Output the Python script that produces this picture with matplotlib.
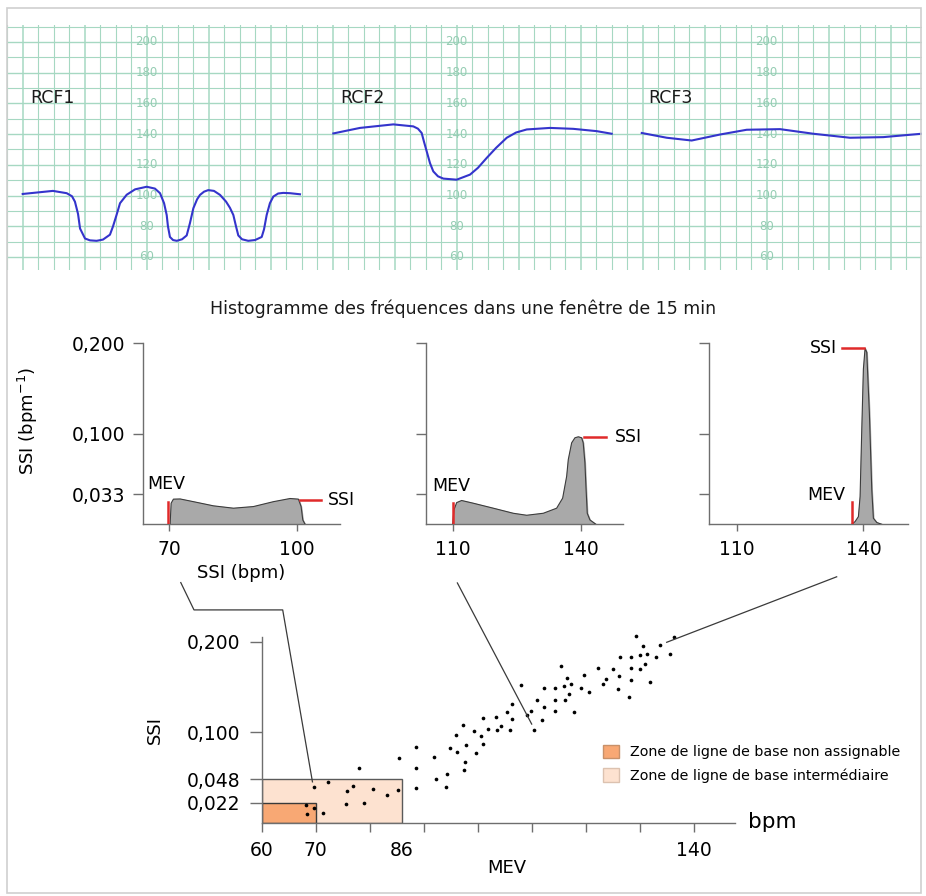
import matplotlib
matplotlib.use('Agg')
import matplotlib.pyplot as plt
from matplotlib.patches import Rectangle, Patch
from matplotlib.lines import Line2D

# ---- top strip: three CTG traces (t in grid squares, bpm) ----
rcf1_t = [1.00, 2.95, 3.84, 4.18, 4.37, 4.57, 4.70, 5.02, 5.34, 5.77, 6.18, 6.63, 6.83, 7.06,
          7.28, 7.71, 8.25, 9.00, 9.53, 9.86, 10.12, 10.29, 10.37, 10.50, 10.70, 10.94, 11.28,
          11.58, 11.79, 12.01, 12.25, 12.44, 12.70, 12.97, 13.34, 13.73, 14.12, 14.37, 14.59,
          14.76, 14.91, 15.15, 15.55, 15.99, 16.42, 16.57, 16.74, 16.95, 17.17, 17.48, 17.81,
          18.25, 18.89]
rcf1_v = [101, 103, 101.5, 99.5, 96, 88, 78.5, 72, 70.8, 70.5, 71.3, 74.5, 80, 87.5,
          95, 100.5, 104, 105.7, 104.5, 101.5, 95, 87.3, 80, 73, 71, 70.5, 71.5,
          74, 82, 91.7, 97.5, 100.4, 102.5, 103.5, 103, 100.4, 96, 92, 87.3,
          80, 74, 71.5, 70.5, 71, 73, 78, 87.3, 95, 99.3, 101.3, 101.7,
          101.5, 100.8]
rcf2_t = [21.04, 22.76, 24.91, 26.20, 26.50, 26.74, 26.89, 27.06, 27.28, 27.49, 27.79, 28.14,
          29.00, 29.86, 30.37, 30.94, 31.54, 32.23, 32.83, 33.52, 35.02, 36.52, 38.03, 39.00]
rcf2_v = [140.4, 144, 146.3, 145, 143.5, 140.7, 135, 128.9, 121, 115.7, 112.5, 111,
          110.3, 113.6, 118, 124.5, 131, 137.6, 141, 143, 144, 143.4, 141.9, 140.2]
rcf3_t = [40.94, 42.55, 44.16, 45.99, 47.71, 49.86, 52.01, 54.37, 56.52, 58.99]
rcf3_v = [140.7, 137.6, 135.8, 139.7, 142.8, 143.2, 140.2, 137.6, 138, 140.2]
ctg_labels = ['RCF1', 'RCF2', 'RCF3']
ctg_ticks = [60, 80, 100, 120, 140, 160, 180, 200]

# ---- histograms (bpm, density) ----
h1_x = [70.16, 70.40, 70.94, 72.52, 75.66, 80.37, 85.08, 89.79, 94.5, 98.44, 100.4, 101.03, 101.43, 101.97]
h1_y = [0, 0.0233, 0.0278, 0.028, 0.025, 0.0204, 0.0178, 0.0196, 0.025, 0.0285, 0.0278, 0.0196, 0.0048, 0]
h2_x = [110.0, 110.3, 110.94, 112.1, 114.83, 119.52, 124.2, 127.34, 131.24, 134.37, 135.78, 136.72,
        137.1, 137.89, 138.66, 139.45, 140.23, 140.6, 141.0, 141.24, 141.55, 142.18, 143.58]
h2_y = [0, 0.0159, 0.024, 0.0263, 0.0233, 0.0178, 0.0122, 0.010, 0.0122, 0.0178, 0.0289, 0.053,
        0.0715, 0.090, 0.0956, 0.0967, 0.0956, 0.090, 0.068, 0.042, 0.0122, 0.0048, 0]
h3_x = [137.25, 138.03, 138.82, 139.22, 139.62, 140.0, 140.4, 140.8, 141.42, 141.99, 142.37, 143.17, 144.36]
h3_y = [0, 0.003, 0.0085, 0.0307, 0.105, 0.1715, 0.1944, 0.19, 0.123, 0.038, 0.0067, 0.002, 0]
mev_marks = [69.6, 110.0, 137.3]
ssi_marks = [0.027, 0.0967, 0.195]
hist_xticks = [[70, 100], [110, 140], [110, 140]]

# ---- scatter MEV vs SSI ----
mev = [68.2, 69.7, 68.4, 71.3, 69.6, 72.3, 75.7, 75.8, 77.0, 78.0, 79.0, 80.6, 83.2, 85.3, 85.4,
       88.6, 88.5, 88.5, 91.9, 92.2, 94.2, 94.4, 94.9, 96.1, 95.9, 97.5, 97.7, 97.8, 97.2, 99.3,
       99.6, 100.6, 101.0, 100.9, 101.9, 103.3, 103.5, 104.3, 105.4, 105.9, 106.4, 106.3, 108.0,
       109.2, 109.8, 110.5, 111.0, 112.0, 112.2, 112.3, 114.3, 114.3, 114.3, 115.4, 116.0, 116.1,
       116.5, 117.0, 117.3, 117.9, 119.1, 119.7, 120.6, 122.3, 123.2, 123.8, 125.1, 126.0, 126.2,
       126.4, 128.1, 128.3, 128.3, 128.3, 129.4, 130.1, 130.1, 130.6, 131.0, 131.4, 132.0, 133.1,
       133.8, 135.6, 136.4]
ssi = [0.019, 0.016, 0.009, 0.011, 0.039, 0.045, 0.020, 0.035, 0.040, 0.060, 0.022, 0.037, 0.030,
       0.036, 0.071, 0.084, 0.060, 0.038, 0.073, 0.048, 0.039, 0.054, 0.083, 0.078, 0.097, 0.058,
       0.067, 0.086, 0.108, 0.101, 0.077, 0.096, 0.087, 0.116, 0.104, 0.117, 0.102, 0.107, 0.122,
       0.103, 0.115, 0.131, 0.152, 0.119, 0.124, 0.103, 0.136, 0.114, 0.128, 0.149, 0.149, 0.136,
       0.124, 0.173, 0.151, 0.136, 0.160, 0.142, 0.153, 0.122, 0.149, 0.163, 0.145, 0.171, 0.153,
       0.159, 0.170, 0.148, 0.162, 0.183, 0.139, 0.158, 0.171, 0.183, 0.207, 0.186, 0.170, 0.195,
       0.176, 0.187, 0.156, 0.183, 0.197, 0.187, 0.205]
sc_yticks = [0.022, 0.048, 0.100, 0.200]
sc_xticks = [60, 70, 80, 86, 90, 100, 110, 120, 130, 140]
sc_xlabels = ['60', '70', '', '86', '', '', '', '', '', '140']

W, H = 926, 896
fig = plt.figure(figsize=(W / 100, H / 100), dpi=100)
plt.rcParams['font.family'] = 'DejaVu Sans'


def box(x0, y0, x1, y1):
    return [x0 / W, 1 - y1 / H, (x1 - x0) / W, (y1 - y0) / H]


grid_c = '#a6d8c2'
green_txt = '#95cdb3'
spine_c = '#6e6e6e'

# outer frame
fig.patches.append(Rectangle((7 / W, 1 - 893 / H), 914 / W, 885 / H, transform=fig.transFigure,
                             fill=False, ec='#cfcfcf', lw=1.2))

# top CTG strip
ax0 = fig.add_axes(box(7.2, 25, 922, 270))
ax0.set_xlim(0, 59.02)
ax0.set_ylim(51.5, 211)
ax0.axis('off')
for k in range(60):
    ax0.axvline(k, color=grid_c, lw=1.1 if k % 4 == 1 else 0.8, zorder=1)
for v in range(60, 211, 10):
    ax0.axhline(v, color=grid_c, lw=1.0 if v % 20 == 0 else 0.8, zorder=1)
for tx in [9, 29, 49]:
    for v in ctg_ticks:
        ax0.text(tx, v, str(v), color=green_txt, fontsize=8.5, ha='center', va='center', zorder=2)
for tt, vv in [(rcf1_t, rcf1_v), (rcf2_t, rcf2_v), (rcf3_t, rcf3_v)]:
    ax0.plot(tt, vv, color='#3434cc', lw=1.5, zorder=3, solid_joinstyle='round')
for tx, lab in zip([1.47, 21.47, 41.34], ctg_labels):
    ax0.text(tx, 163.8, lab, fontsize=12.5, ha='left', va='center', color='#1a1a1a', zorder=4)

fig.text(463 / W, 1 - 309 / H, 'Histogramme des fréquences dans une fenêtre de 15 min',
         ha='center', va='center', fontsize=12.5, color='#1a1a1a')

# histograms
hist_boxes = [(142.7, 340.0), (426.0, 623.3), (709.3, 907.7)]
hist_xlims = [(63.7, 110.2), (103.75, 150.0), (103.5, 150.5)]
hist_data = [(h1_x, h1_y), (h2_x, h2_y), (h3_x, h3_y)]
haxes = []
for i in range(3):
    ax = fig.add_axes(box(hist_boxes[i][0], 343.3, hist_boxes[i][1], 524.3))
    ax.set_xlim(*hist_xlims[i])
    ax.set_ylim(0, 0.2)
    for s in ['top', 'right']:
        ax.spines[s].set_visible(False)
    for s in ['left', 'bottom']:
        ax.spines[s].set_color(spine_c)
        ax.spines[s].set_linewidth(1)
    ax.set_xticks(hist_xticks[i])
    ax.set_yticks([0.033, 0.1, 0.2])
    ax.tick_params(axis='x', length=5, width=1, color=spine_c, labelsize=13.5, pad=6)
    ax.tick_params(axis='y', length=7.5, width=1, color=spine_c, labelsize=13.5, pad=5)
    if i == 0:
        ax.set_yticklabels(['0,033', '0,100', '0,200'])
    else:
        ax.set_yticklabels([])
    hx, hy = hist_data[i]
    ax.fill_between(hx, hy, 0, color='#a9a9a9', zorder=2)
    ax.plot(hx, hy, color='#3c3c3c', lw=0.8, zorder=3, solid_joinstyle='round')
    ax.patch.set_alpha(0)
    haxes.append(ax)

red = '#e02a2a'
ax1, ax2, ax3 = haxes
ax1.plot([mev_marks[0]] * 2, [0, 0.025], color=red, lw=1.8, zorder=4)
ax1.plot([100.7, 105.8], [ssi_marks[0]] * 2, color=red, lw=1.8, zorder=4)
ax1.text(64.7, 0.0448, 'MEV', fontsize=12.5, ha='left', va='center')
ax1.text(107.4, ssi_marks[0], 'SSI', fontsize=12.5, ha='left', va='center')
ax1.set_xlabel('SSI (bpm)', fontsize=13, labelpad=4)
ax1.set_ylabel('SSI (bpm$^{-1}$)', fontsize=13)
ax1.yaxis.set_label_coords(-0.52, 0.57)

ax2.plot([mev_marks[1]] * 2, [0, 0.024], color=red, lw=1.8, zorder=4)
ax2.plot([140.9, 146.0], [ssi_marks[1]] * 2, color=red, lw=1.8, zorder=4)
ax2.text(105.3, 0.0418, 'MEV', fontsize=12.5, ha='left', va='center')
ax2.text(148.0, ssi_marks[1], 'SSI', fontsize=12.5, ha='left', va='center')

ax3.plot([mev_marks[2]] * 2, [0, 0.025], color=red, lw=1.8, zorder=4)
ax3.plot([135.0, 140.2], [ssi_marks[2]] * 2, color=red, lw=1.8, zorder=4)
ax3.text(135.7, 0.0326, 'MEV', fontsize=12.5, ha='right', va='center')
ax3.text(133.7, ssi_marks[2], 'SSI', fontsize=12.5, ha='right', va='center')

# scatter
axs = fig.add_axes(box(261.7, 636.7, 735, 822.5))
axs.set_xlim(60, 147.65)
axs.set_ylim(0, 0.2058)
for s in ['top', 'right']:
    axs.spines[s].set_visible(False)
for s in ['left', 'bottom']:
    axs.spines[s].set_color(spine_c)
    axs.spines[s].set_linewidth(1)
dark_or = '#f8a874'
light_or = '#fde2d0'
axs.add_patch(Rectangle((60, 0), 26, 0.048, fc=light_or, ec='#5a5a5a', lw=1, zorder=1))
axs.add_patch(Rectangle((60, 0), 10, 0.022, fc=dark_or, ec='#3a3a3a', lw=1, zorder=2))
axs.scatter(mev, ssi, s=7, color='black', zorder=4, linewidths=0, clip_on=False)
axs.set_xticks(sc_xticks)
axs.set_xticklabels(sc_xlabels)
axs.xaxis.get_major_ticks()[3].tick1line.set_visible(False)
axs.set_yticks(sc_yticks)
axs.set_yticklabels(['0,022', '0,048', '0,100', '0,200'])
axs.tick_params(axis='x', length=6.5, width=1, color=spine_c, labelsize=13.5, pad=7)
axs.tick_params(axis='y', length=8.5, width=1, color=spine_c, labelsize=13.5, pad=7)
axs.set_ylabel('SSI', fontsize=13)
axs.yaxis.set_label_coords(-0.206, 0.5)
axs.text(0.518, -0.245, 'MEV', transform=axs.transAxes, fontsize=13, ha='center', va='center')
axs.text(1.027, 0.004, 'bpm', transform=axs.transAxes, fontsize=15.5, ha='left', va='center')

leg = fig.legend(handles=[Patch(fc=dark_or, ec='#c8916a'), Patch(fc=light_or, ec='#dcc2b0')],
                 labels=['Zone de ligne de base non assignable', 'Zone de ligne de base intermédiaire'],
                 loc='upper left', bbox_to_anchor=(603.3 / W, 1 - 744.5 / H), frameon=False,
                 fontsize=10.3, handlelength=1.12, handleheight=1.12, handletextpad=0.75,
                 labelspacing=0.62, borderpad=0, borderaxespad=0)

# leader lines from histograms to scatter points
inv = fig.transFigure.inverted()


def fpt(ax, xy, data=True):
    tr = ax.transData if data else ax.transAxes
    return inv.transform(tr.transform(xy))


leaders = [
    [fpt(ax1, (0.193, -0.322), False), fpt(ax1, (0.26, -0.473), False),
     fpt(ax1, (0.7096, -0.473), False), fpt(axs, (69.4, 0.045))],
    [fpt(ax2, (0.159, -0.324), False), fpt(axs, (110.0, 0.109))],
    [fpt(ax3, (0.642, -0.29), False), fpt(axs, (135.0, 0.1996))],
]
for pts in leaders:
    xs = [p[0] for p in pts]
    ys = [p[1] for p in pts]
    fig.lines.append(Line2D(xs, ys, transform=fig.transFigure, color='#3a3a3a', lw=0.9))

fig.savefig('out.png', dpi=100)
